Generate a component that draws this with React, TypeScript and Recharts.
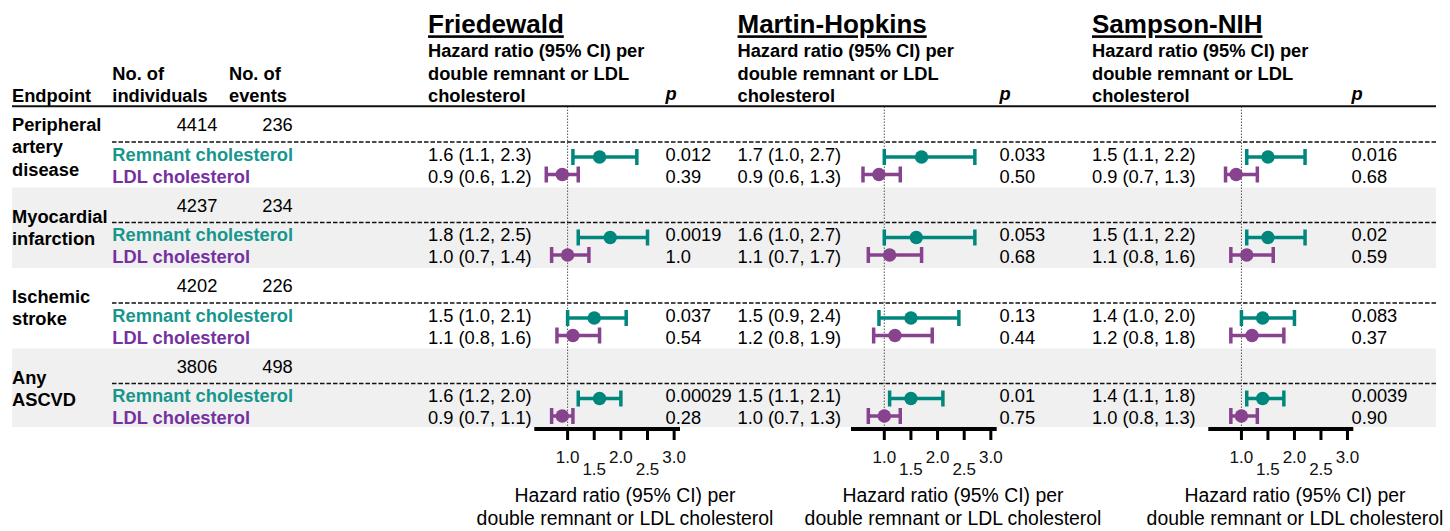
import React from "react";
import { ComposedChart, ErrorBar, ReferenceLine, Scatter, XAxis, YAxis } from "recharts";

// endpoints, one entry per row group
const endpointLines = [
  ["Peripheral", "artery", "disease"],
  ["Myocardial", "infarction"],
  ["Ischemic", "stroke"],
  ["Any", "ASCVD"],
];
const individuals = [4414, 4237, 4202, 3806];
const events = [236, 234, 226, 498];

const methods = ["Friedewald", "Martin-Hopkins", "Sampson-NIH"];
const exposures = ["Remnant cholesterol", "LDL cholesterol"];

// [hazard ratio, lower 95% CI, upper 95% CI] per endpoint
const friedewaldRemnant = [[1.6, 1.1, 2.3], [1.8, 1.2, 2.5], [1.5, 1.0, 2.1], [1.6, 1.2, 2.0]];
const friedewaldRemnantP = ["0.012", "0.0019", "0.037", "0.00029"];
const friedewaldLdl = [[0.9, 0.6, 1.2], [1.0, 0.7, 1.4], [1.1, 0.8, 1.6], [0.9, 0.7, 1.1]];
const friedewaldLdlP = ["0.39", "1.0", "0.54", "0.28"];

const martinRemnant = [[1.7, 1.0, 2.7], [1.6, 1.0, 2.7], [1.5, 0.9, 2.4], [1.5, 1.1, 2.1]];
const martinRemnantP = ["0.033", "0.053", "0.13", "0.01"];
const martinLdl = [[0.9, 0.6, 1.3], [1.1, 0.7, 1.7], [1.2, 0.8, 1.9], [1.0, 0.7, 1.3]];
const martinLdlP = ["0.50", "0.68", "0.44", "0.75"];

const sampsonRemnant = [[1.5, 1.1, 2.2], [1.5, 1.1, 2.2], [1.4, 1.0, 2.0], [1.4, 1.1, 1.8]];
const sampsonRemnantP = ["0.016", "0.02", "0.083", "0.0039"];
const sampsonLdl = [[0.9, 0.7, 1.3], [1.1, 0.8, 1.6], [1.2, 0.8, 1.8], [1.0, 0.8, 1.3]];
const sampsonLdlP = ["0.68", "0.59", "0.37", "0.90"];

const hrTicks = [1.0, 1.5, 2.0, 2.5, 3.0];
const hrDomain = [0.375, 3.11];

const W = 1450;
const H = 531;
const LEFT = 12;
const RIGHT = 1436;
const TOP = 107;
const BOTTOM = 429;
const GROUP_H = 80.5;
// the three x axes all sit on the bottom edge; a tiny height keeps them from stacking
const AXIS_H = 0.01;
const FONT = "'Liberation Sans', Arial, Helvetica, sans-serif";
const INK = "#000";
const TEAL = "#00877d";
const PURPLE = "#87438e";
const TEAL_TEXT = "#16968c";
const PURPLE_TEXT = "#7431a0";
const BAND = "#f0f0f0";

const panels = [
  { id: "fw", title: methods[0], remnant: friedewaldRemnant, remnantP: friedewaldRemnantP, ldl: friedewaldLdl, ldlP: friedewaldLdlP, textX: 428, pX: 665.5, axis: [534.3, 680], labelX: 625 },
  { id: "mh", title: methods[1], remnant: martinRemnant, remnantP: martinRemnantP, ldl: martinLdl, ldlP: martinLdlP, textX: 737.5, pX: 999.5, axis: [851, 996.7], labelX: 953 },
  { id: "sn", title: methods[2], remnant: sampsonRemnant, remnantP: sampsonRemnantP, ldl: sampsonLdl, ldlP: sampsonLdlP, textX: 1092, pX: 1351.5, axis: [1208.3, 1353.3], labelX: 1295 },
];

const groupTop = (i: number) => i * GROUP_H;
const fmt = (v: number) => v.toFixed(1);
const ciText = ([hr, lo, hi]: number[]) => `${fmt(hr)} (${fmt(lo)}, ${fmt(hi)})`;

// points for one exposure of one panel, positioned on the row axis
function seriesData(values: number[][], rowOffset: number) {
  return values.map(([hr, lo, hi], i) => ({
    hr,
    err: [hr - lo, hi - hr],
    row: groupTop(i) + rowOffset,
  }));
}

// 1.0 / 2.0 / 3.0 sit high, 1.5 / 2.5 drop a line lower
function HrTick(props: any) {
  const { x, y, payload, index } = props;
  return (
    <text x={x} y={y} dy={index % 2 === 1 ? 34.5 : 22.7} textAnchor="middle" fontSize={17} fontFamily={FONT} fill="#111">
      {Number(payload.value).toFixed(1)}
    </text>
  );
}

// table text, rules and row bands behind the forest plots
function TableLayer() {
  const bold = { fontFamily: FONT, fontSize: 18.3, fontWeight: 700, fill: INK };
  const plain = { fontFamily: FONT, fontSize: 18.3, fill: INK };
  return (
    <g>
      {endpointLines.map((_, i) =>
        i % 2 === 1 ? (
          <rect key={`band-${i}`} x={LEFT} y={TOP + groupTop(i)} width={RIGHT - LEFT} height={Math.min(GROUP_H, BOTTOM - 2 - TOP - groupTop(i))} fill={BAND} />
        ) : null
      )}

      <text x={12} y={102} {...bold}>Endpoint</text>
      <text x={112.3} y={79.5} {...bold}>No. of</text>
      <text x={112.3} y={102} {...bold}>individuals</text>
      <text x={229} y={79.5} {...bold}>No. of</text>
      <text x={229} y={102} {...bold}>events</text>

      {panels.map((p) => (
        <g key={`head-${p.id}`}>
          <text x={p.textX} y={33.3} fontFamily={FONT} fontSize={26} fontWeight={700} fill={INK} textDecoration="underline">{p.title}</text>
          <text x={p.textX} y={57} {...bold}>Hazard ratio (95% CI) per</text>
          <text x={p.textX} y={79.5} {...bold}>double remnant or LDL</text>
          <text x={p.textX} y={102} {...bold}>cholesterol</text>
          <text x={p.pX} y={100} {...bold} fontStyle="italic">p</text>
          <text x={p.labelX} y={501.5} textAnchor="middle" fontFamily={FONT} fontSize={19.4} fill={INK}>Hazard ratio (95% CI) per</text>
          <text x={p.labelX} y={525} textAnchor="middle" fontFamily={FONT} fontSize={19.4} fill={INK}>double remnant or LDL cholesterol</text>
        </g>
      ))}

      <line x1={LEFT} x2={RIGHT} y1={106.3} y2={106.3} stroke="#111" strokeWidth={2} />

      {endpointLines.map((lines, i) => {
        const top = TOP + groupTop(i);
        const first = lines.length === 3 ? top + 24 : top + 35;
        return (
          <g key={`group-${i}`}>
            {lines.map((line, j) => (
              <text key={line} x={12} y={first + j * 22.3} {...bold}>{line}</text>
            ))}
            <text x={197} y={top + 24} textAnchor="middle" {...plain}>{individuals[i]}</text>
            <text x={277.5} y={top + 24} textAnchor="middle" {...plain}>{events[i]}</text>
            <line x1={112} x2={RIGHT} y1={top + 35} y2={top + 35} stroke="#111" strokeWidth={1.5} strokeDasharray="4.5 2" />
            <text x={112.3} y={top + 53.5} {...bold} fill={TEAL_TEXT}>{exposures[0]}</text>
            <text x={112.3} y={top + 75.5} {...bold} fill={PURPLE_TEXT}>{exposures[1]}</text>
            {panels.map((p) => (
              <g key={`vals-${p.id}`}>
                <text x={p.textX} y={top + 53.5} {...plain}>{ciText(p.remnant[i])}</text>
                <text x={p.textX} y={top + 75.5} {...plain}>{ciText(p.ldl[i])}</text>
                <text x={p.pX} y={top + 53.5} {...plain}>{p.remnantP[i]}</text>
                <text x={p.pX} y={top + 75.5} {...plain}>{p.ldlP[i]}</text>
              </g>
            ))}
          </g>
        );
      })}
    </g>
  );
}

const dot = (color: string) => (props: any) => <circle cx={props.cx} cy={props.cy} r={6.7} fill={color} />;

export default function App() {
  return (
    <div style={{ position: "absolute", left: 0, top: 0, width: W, height: H, background: "#fff" }}>
      <ComposedChart width={W} height={H} margin={{ top: TOP, right: W - RIGHT, bottom: H - BOTTOM - 3 * AXIS_H, left: LEFT }}>
        <TableLayer />
        <YAxis type="number" dataKey="row" domain={[0, BOTTOM - TOP]} reversed hide />
        {panels.map((p) => (
          <XAxis
            key={`x-${p.id}`}
            xAxisId={p.id}
            type="number"
            dataKey="hr"
            domain={hrDomain}
            allowDataOverflow
            ticks={hrTicks}
            interval={0}
            padding={{ left: p.axis[0] - LEFT, right: RIGHT - p.axis[1] }}
            height={AXIS_H}
            axisLine={false}
            tickLine={{ stroke: "#000", strokeWidth: 3 }}
            tickSize={11}
            tickMargin={0}
            tick={<HrTick />}
          />
        ))}
        {panels.map((p) => (
          <ReferenceLine key={`one-${p.id}`} xAxisId={p.id} x={1} stroke="#555" strokeWidth={1} strokeDasharray="1.5 1.5" />
        ))}
        {panels.map((p) => (
          <ReferenceLine
            key={`axis-${p.id}`}
            xAxisId={p.id}
            segment={[{ x: hrDomain[0], y: BOTTOM - TOP }, { x: hrDomain[1], y: BOTTOM - TOP }]}
            stroke="#000"
            strokeWidth={4}
          />
        ))}
        {panels.map((p) => (
          <Scatter key={`rem-${p.id}`} xAxisId={p.id} data={seriesData(p.remnant, 50)} shape={dot(TEAL)} isAnimationActive={false}>
            <ErrorBar dataKey="err" direction="x" width={8} strokeWidth={3.5} stroke={TEAL} isAnimationActive={false} />
          </Scatter>
        ))}
        {panels.map((p) => (
          <Scatter key={`ldl-${p.id}`} xAxisId={p.id} data={seriesData(p.ldl, 67.5)} shape={dot(PURPLE)} isAnimationActive={false}>
            <ErrorBar dataKey="err" direction="x" width={8} strokeWidth={3.5} stroke={PURPLE} isAnimationActive={false} />
          </Scatter>
        ))}
      </ComposedChart>
    </div>
  );
}
